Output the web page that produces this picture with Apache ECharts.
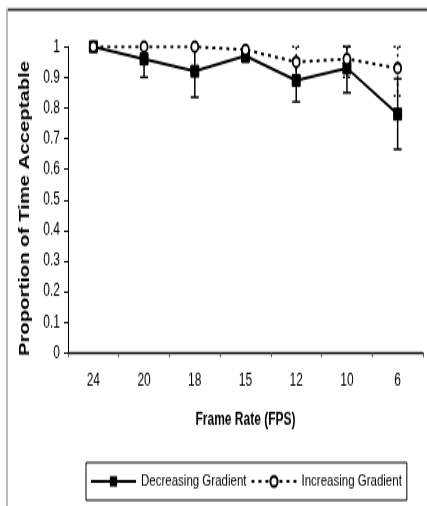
<!DOCTYPE html>
<html>
<head>
<meta charset="utf-8">
<script src="https://cdn.jsdelivr.net/npm/echarts@6/dist/echarts.min.js"></script>
<style>
html,body{margin:0;padding:0;background:#fff;overflow:hidden;}
#wrap{width:427px;height:506px;overflow:hidden;}
#main{width:427px;height:349px;transform:scaleY(1.45);transform-origin:0 0;}
</style>
</head>
<body>
<div id="wrap"><div id="main"></div></div>
<script>
const categories = ['24', '20', '18', '15', '12', '10', '6'];
const decreasing = [1.00, 0.96, 0.92, 0.97, 0.89, 0.93, 0.78];
const decreasingErr = [0, 0.06, 0.085, 0.02, 0.07, 0.08, 0.115];
const increasing = [1.00, 1.00, 1.00, 0.99, 0.95, 0.96, 0.93];
const increasingErr = [0, 0, 0, 0, 0.05, 0.06, 0.09];
const yTicks = { min: 0, max: 1, interval: 0.1 };

const FONT = '"Liberation Sans", Arial, sans-serif';

function errData(vals, errs) {
  return vals.map((v, i) => [i, v, errs[i]]);
}
function errRender(dash) {
  return function (params, api) {
    const x = api.value(0), v = api.value(1), e = api.value(2);
    if (!e) return null;
    const hi = Math.min(v + e, yTicks.max), lo = Math.max(v - e, yTicks.min);
    const pHi = api.coord([x, hi]), pLo = api.coord([x, lo]);
    const w = 4;
    const st = { stroke: '#000', lineWidth: 1.5, lineDash: dash };
    return {
      type: 'group',
      children: [
        { type: 'line', shape: { x1: pHi[0], y1: pHi[1], x2: pLo[0], y2: pLo[1] }, style: st },
        { type: 'line', shape: { x1: pHi[0] - w, y1: pHi[1], x2: pHi[0] + w, y2: pHi[1] }, style: st },
        { type: 'line', shape: { x1: pLo[0] - w, y1: pLo[1], x2: pLo[0] + w, y2: pLo[1] }, style: st }
      ]
    };
  };
}

const chart = echarts.init(document.getElementById('main'), null, { renderer: 'canvas' });
chart.setOption({
  animation: false,
  backgroundColor: '#fff',
  textStyle: { fontFamily: FONT, color: '#000' },
  graphic: [
    { type: 'line', shape: { x1: 7, y1: 6.6, x2: 427, y2: 6.6 }, style: { stroke: '#333', lineWidth: 1.6 } },
    { type: 'line', shape: { x1: 7, y1: 6, x2: 7, y2: 349 }, style: { stroke: '#bbb', lineWidth: 2 } }
  ],
  grid: { left: 68, right: 4, top: 32.2, bottom: 105.6, containLabel: false, outerBoundsMode: 'none' },
  legend: {
    left: 86, top: 319,
    padding: [7, 5, 7, 4],
    itemWidth: 45, itemHeight: 9, itemGap: 4,
    borderColor: '#000', borderWidth: 1,
    textStyle: { fontFamily: FONT, fontSize: 11.5, color: '#000' },
    data: ['Decreasing Gradient', 'Increasing Gradient']
  },
  xAxis: {
    type: 'category',
    data: categories,
    boundaryGap: true,
    axisLine: { show: true, lineStyle: { color: '#000', width: 1.4 } },
    axisTick: { show: true, length: 3, interval: 0, lineStyle: { color: '#555' } },
    axisLabel: { margin: 13, fontSize: 12, color: '#000', fontFamily: FONT, interval: 0 },
    name: 'Frame Rate (FPS)',
    nameLocation: 'middle',
    nameGap: 40,
    nameTextStyle: { fontSize: 12, fontWeight: 'bold', color: '#000', fontFamily: FONT },
    splitLine: { show: false }
  },
  yAxis: {
    type: 'value',
    min: yTicks.min, max: yTicks.max, interval: yTicks.interval,
    axisLine: { show: true, lineStyle: { color: '#000', width: 1 } },
    axisTick: { show: true, length: 4, lineStyle: { color: '#000' } },
    axisLabel: { margin: 8, fontSize: 12, color: '#000', fontFamily: FONT },
    splitLine: { show: false },
    name: 'Proportion of Time Acceptable',
    nameLocation: 'middle',
    nameRotate: 90,
    nameGap: 27,
    nameTextStyle: { fontSize: 14, fontWeight: 'bold', color: '#000', fontFamily: FONT, padding: [0, 12, 0, 0] }
  },
  series: [
    {
      name: 'DecErr', type: 'custom', z: 1,
      renderItem: errRender(null),
      data: errData(decreasing, decreasingErr),
      encode: { x: 0, y: 1 }, silent: true
    },
    {
      name: 'IncErr', type: 'custom', z: 1,
      renderItem: errRender([2, 3]),
      data: errData(increasing, increasingErr),
      encode: { x: 0, y: 1 }, silent: true
    },
    {
      name: 'Decreasing Gradient', type: 'line', z: 2,
      data: decreasing,
      symbol: 'rect', symbolSize: 8,
      lineStyle: { color: '#000', width: 2 },
      itemStyle: { color: '#000', borderColor: '#000' }
    },
    {
      name: 'Increasing Gradient', type: 'line', z: 3,
      data: increasing,
      symbol: 'circle', symbolSize: 7,
      lineStyle: { color: '#000', width: 2, type: [3, 4] },
      itemStyle: { color: '#fff', borderColor: '#000', borderWidth: 1.8 }
    }
  ]
});
</script>
</body>
</html>
